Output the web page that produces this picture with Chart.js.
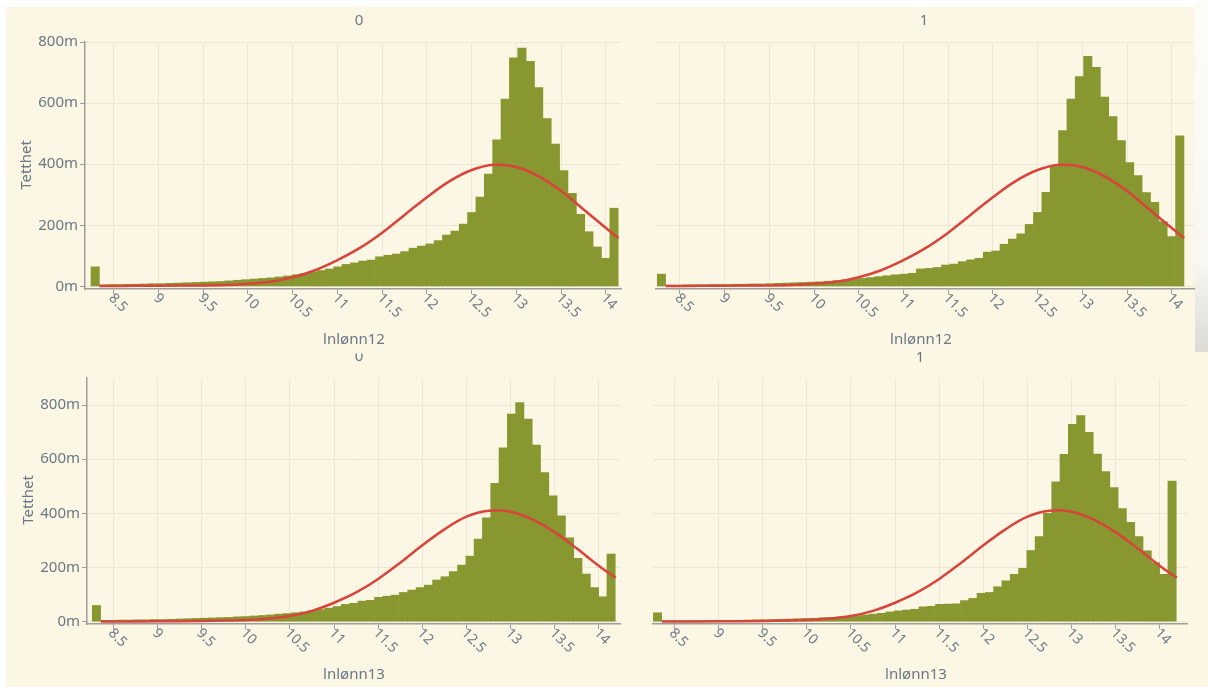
<!DOCTYPE html>
<html lang="no">
<head>
<meta charset="UTF-8">
<title>Tetthet lnlønn12 / lnlønn13</title>
<script src="https://cdn.jsdelivr.net/npm/chart.js"></script>
<style>
  body { margin: 0; }
  .side { position: relative; width: 1208px; height: 687px; background: #fcf6e5; overflow: hidden; }
  .side canvas { position: absolute; }
  .kant { position: absolute; background: #fff; }
</style>
</head>
<body>
<div class="side">
  <div class="kant" style="left:0;top:0;width:1208px;height:7px"></div>
  <div class="kant" style="left:0;top:0;width:6px;height:687px"></div>
  <div class="kant" style="left:1195px;top:0;width:13px;height:352px;background:linear-gradient(to bottom,#fdfcf8 0%,#f8f6f0 75%,#dcdad4 100%)"></div>

  <canvas id="lonn12_0" width="640" height="350" style="left:0;top:0"></canvas>
  <canvas id="lonn12_1" width="608" height="350" style="left:600px;top:0"></canvas>
  <canvas id="lonn13_0" width="640" height="347" style="left:0;top:340px"></canvas>
  <canvas id="lonn13_1" width="608" height="347" style="left:600px;top:340px"></canvas>
</div>

<script>
// histogram-tetthet (i tusendeler, vist som "m"), 63 like brede intervaller per variabel
const tetthet12_0 = [64, 5, 6, 6, 7, 7, 8, 9, 9, 10, 11, 12, 13, 14, 15, 16, 18, 20, 22, 24, 26, 28, 31, 34, 38, 42, 47, 52, 57, 64,
  72, 77, 83, 86, 97, 102, 106, 114, 125, 132, 139, 150, 168, 181, 204, 242, 292, 368, 480, 613, 748, 780, 737, 651, 549, 466,
  379, 305, 236, 179, 129, 92, 256];
const tetthet12_1 = [40, 4, 4, 5, 5, 5, 6, 6, 6, 7, 7, 8, 8, 9, 10, 11, 12, 13, 14, 15, 17, 19, 21, 23, 26, 29, 32, 35, 38, 40,
  43, 57, 59, 62, 70, 73, 81, 87, 92, 112, 116, 138, 155, 172, 203, 242, 308, 392, 510, 613, 687, 753, 717, 620, 556, 477,
  405, 363, 307, 275, 212, 163, 493];
const tetthet13_0 = [60, 5, 5, 6, 6, 7, 7, 8, 8, 9, 10, 11, 12, 13, 14, 15, 16, 18, 19, 21, 23, 25, 28, 30, 33, 36, 40, 45, 50, 56,
  64, 68, 76, 79, 90, 94, 98, 108, 117, 126, 135, 154, 166, 185, 209, 242, 305, 384, 511, 642, 767, 809, 748, 652, 551, 465,
  391, 310, 234, 176, 126, 92, 250];
const tetthet13_1 = [33, 3, 3, 3, 4, 4, 4, 4, 5, 5, 5, 6, 7, 7, 8, 9, 10, 11, 12, 13, 15, 16, 18, 20, 22, 25, 28, 31, 36, 40,
  43, 46, 55, 57, 64, 65, 66, 78, 86, 105, 108, 129, 151, 175, 197, 263, 314, 400, 517, 618, 729, 761, 699, 619, 554, 495,
  418, 367, 314, 262, 218, 175, 519];

// første intervallstart og intervallbredde
const binStart12 = 8.246, binBredde12 = 0.0935;
const binStart13 = 8.262, binBredde13 = 0.094;

// tilpasset normalfordeling (rød kurve)
const kurveX12 = [8.34, 8.75, 9.25, 9.75, 10.0, 10.25, 10.5, 10.75, 11.0, 11.25, 11.5, 11.75, 12.0, 12.25, 12.5, 12.75, 13.0, 13.25, 13.5, 13.75, 14.0, 14.14];
const kurveY12 = [1, 2, 3, 5, 9, 15, 30, 53, 86, 126, 176, 234, 292, 344, 381, 398, 391, 360, 312, 252, 191, 158];
const kurveX13 = [8.36, 8.75, 9.25, 9.75, 10.0, 10.25, 10.5, 10.75, 11.0, 11.25, 11.5, 11.75, 12.0, 12.25, 12.5, 12.75, 13.0, 13.25, 13.5, 13.75, 14.0, 14.19];
const kurveY13 = [1, 1, 2, 4, 6, 11, 21, 40, 70, 108, 158, 218, 282, 341, 388, 410, 406, 377, 330, 270, 206, 162];

const xTicks = [8.5, 9, 9.5, 10, 10.5, 11, 11.5, 12, 12.5, 13, 13.5, 14];
const yTicks = [0, 200, 400, 600, 800];

const oliven = '#889730';
const rod = '#d8443b';
const tekstFarge = '#6b7884';
const aksefarge = '#9c9c9a';
const gridFarge = '#ece6d5';
const font = '"Noto Sans", "Open Sans", sans-serif';

// titler og roterte x-etiketter tegnes selv
const panelTekst = {
  id: 'panelTekst',
  afterDraw(chart, args, o) {
    const ctx = chart.ctx;
    const area = chart.chartArea;
    const sx = chart.scales.x;
    ctx.save();
    ctx.fillStyle = tekstFarge;

    ctx.font = '14px ' + font;
    ctx.textAlign = 'left';
    ctx.textBaseline = 'top';
    xTicks.forEach(v => {
      ctx.save();
      ctx.translate(sx.getPixelForValue(v) + 2.2, area.bottom + 2);
      ctx.rotate(Math.PI / 4);
      ctx.fillText(String(v), 0, 0);
      ctx.restore();
    });

    ctx.font = '15px ' + font;
    ctx.textAlign = 'center';
    ctx.textBaseline = 'middle';
    ctx.fillText(o.xTittel, o.xTittelX, o.xTittelY);

    if (o.yTittel) {
      ctx.save();
      ctx.translate(o.yTittelX, o.yTittelY);
      ctx.rotate(-Math.PI / 2);
      ctx.fillText(o.yTittel, 0, 0);
      ctx.restore();
    }

    ctx.beginPath();
    ctx.rect(0, o.klipp || 0, chart.width, chart.height);
    ctx.clip();
    ctx.fillText(o.tittel, o.tittelX, o.tittelY);
    ctx.restore();
  }
};

function tegnPanel(id, tetthet, binStart, binBredde, kurveX, kurveY, p) {
  const stolper = tetthet.map((t, i) => ({ x: binStart + binBredde * (i + 0.5), y: t }));
  const kurve = kurveX.map((x, i) => ({ x: x, y: kurveY[i] }));

  new Chart(document.getElementById(id), {
    type: 'bar',
    data: {
      datasets: [
        {
          type: 'line',
          data: kurve,
          borderColor: rod,
          borderWidth: 2.5,
          pointRadius: 0,
          tension: 0.4,
          order: 0
        },
        {
          type: 'bar',
          data: stolper,
          backgroundColor: oliven,
          borderWidth: 0,
          barPercentage: 1,
          categoryPercentage: 1,
          order: 1
        }
      ]
    },
    options: {
      responsive: false,
      animation: false,
      events: [],
      layout: { padding: p.padding },
      plugins: {
        legend: { display: false },
        tooltip: { enabled: false },
        panelTekst: p.tekst
      },
      scales: {
        x: {
          type: 'linear',
          min: p.xMin,
          max: p.xMax,
          offset: false,
          grid: { color: gridFarge, tickColor: aksefarge, tickLength: 5, offset: false },
          border: { color: aksefarge, width: 1.5 },
          ticks: { display: false },
          afterBuildTicks: s => { s.ticks = xTicks.map(v => ({ value: v })); },
          afterFit: s => { s.height = 40; }
        },
        y: {
          min: -8.5,
          max: p.yMax,
          grid: { color: gridFarge, tickColor: aksefarge, tickLength: 5, drawTicks: p.yEtiketter },
          border: { display: p.yEtiketter, color: aksefarge, width: 1.5 },
          ticks: {
            display: p.yEtiketter,
            padding: 2,
            color: tekstFarge,
            font: { family: font, size: 15 },
            callback: v => v + 'm'
          },
          afterBuildTicks: s => { s.ticks = yTicks.map(v => ({ value: v })); },
          afterFit: s => { s.width = p.yBredde; }
        }
      }
    },
    plugins: [panelTekst]
  });
}

tegnPanel('lonn12_0', tetthet12_0, binStart12, binBredde12, kurveX12, kurveY12, {
  padding: { left: 0, right: 19, top: 42, bottom: 21 },
  yBredde: 85, yEtiketter: true, xMin: 8.179, xMax: 14.168, yMax: 800,
  tekst: { tittel: '0', tittelX: 359, tittelY: 21, xTittel: 'lnlønn12', xTittelX: 354, xTittelY: 340,
           yTittel: 'Tetthet', yTittelX: 27, yTittelY: 165 }
});
tegnPanel('lonn12_1', tetthet12_1, binStart12, binBredde12, kurveX12, kurveY12, {
  padding: { left: 0, right: 14, top: 42, bottom: 21 },
  yBredde: 56, yEtiketter: false, xMin: 8.232, xMax: 14.249, yMax: 800,
  tekst: { tittel: '1', tittelX: 324, tittelY: 21, xTittel: 'lnlønn12', xTittelX: 321, xTittelY: 340 }
});
tegnPanel('lonn13_0', tetthet13_0, binStart13, binBredde13, kurveX13, kurveY13, {
  padding: { left: 0, right: 20, top: 38, bottom: 23 },
  yBredde: 87, yEtiketter: true, xMin: 8.202, xMax: 14.238, yMax: 900,
  tekst: { tittel: '0', tittelX: 359, tittelY: 17, klipp: 13.5, xTittel: 'lnlønn13', xTittelX: 354, xTittelY: 334.5,
           yTittel: 'Tetthet', yTittelX: 29, yTittelY: 160 }
});
tegnPanel('lonn13_1', tetthet13_1, binStart13, binBredde13, kurveX13, kurveY13, {
  padding: { left: 0, right: 21, top: 38, bottom: 23 },
  yBredde: 53, yEtiketter: false, xMin: 8.258, xMax: 14.306, yMax: 900,
  tekst: { tittel: '1', tittelX: 320, tittelY: 18, klipp: 11, xTittel: 'lnlønn13', xTittelX: 316, xTittelY: 334.5 }
});
</script>
</body>
</html>
